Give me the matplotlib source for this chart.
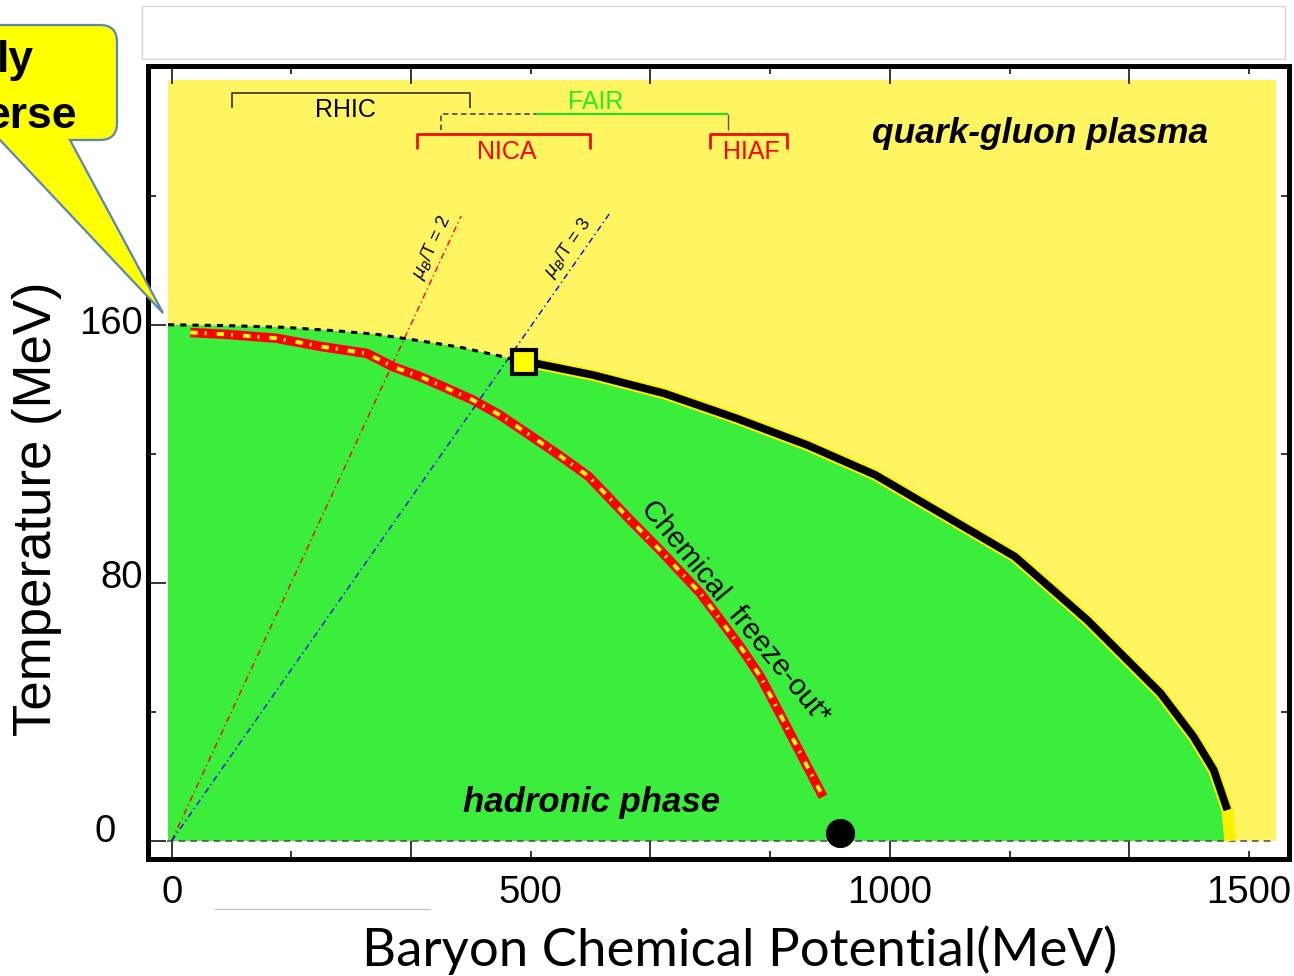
import numpy as np
import matplotlib.pyplot as plt
from matplotlib.path import Path
from matplotlib.patches import PathPatch, Rectangle
from matplotlib.lines import Line2D

W, H = 1294, 976

# ── data (MeV) ───────────────────────────────────────────────────────────
crossover_mu = [-5, 81, 156, 230, 286, 346, 402, 457, 490]
crossover_T = [160.1, 159.8, 159.3, 158.2, 157.1, 155.1, 153.1, 150.4, 148.6]

transition_mu = [490, 507, 587, 686, 786, 885, 980, 1079, 1174, 1275, 1377, 1423, 1451, 1470]
transition_T = [148.6, 148.1, 144.5, 138.8, 131.1, 122.8, 113.5, 100.6, 88.2, 68.5, 45.8, 32.3, 22.0, 9.6]
tail_mu = [1470, 1474]
tail_T = [9.6, 0]

freezeout_mu = [26, 77, 146, 209, 272, 308, 346, 383, 420, 457, 495, 536, 581, 634,
                680, 736, 792, 820, 866, 907]
freezeout_T = [157.7, 157.1, 155.9, 153.3, 151.2, 147.1, 144.0, 140.4, 136.7, 132.1,
               126.4, 120.2, 113.0, 100.6, 90.2, 76.9, 60.2, 50.9, 31.3, 13.7]

ratio2_mu = [0, 403]
ratio2_T = [0, 193.8]
ratio3_mu = [0, 611]
ratio3_T = [0, 195.0]

cep_mu, cep_T = [490], [148.6]          # critical end point
nuclear_mu, nuclear_T = [931], [2.5]    # nuclear matter

x_ticklabels = [0, 500, 1000, 1500]

YELLOW = "#FFF561"
GREEN = "#3BEE3B"

fig = plt.figure(figsize=(W / 100, H / 100), dpi=100)
fig.patch.set_facecolor("white")


def fx(px):
    return px / W


def fy(py):
    return 1 - py / H


ax = fig.add_axes([fx(148), fy(859), fx(1288.5) - fx(148), fy(65.5) - fy(859)])
ax.set_xlim(-32.9, 1555.1)
ax.set_ylim(-5.6, 240.5)

# background regions
ax.add_patch(Rectangle((-5, 0), 1543, 236, facecolor=YELLOW, edgecolor="none", zorder=0))
green_mu = crossover_mu + transition_mu + tail_mu + [-5]
green_T = crossover_T + transition_T + tail_T + [0]
ax.fill(green_mu, green_T, color=GREEN, lw=0, zorder=1)
ax.axhline(0, xmin=0.017, xmax=0.985, color="#555555", lw=1.2, ls=(0, (4, 3)), zorder=2)

# mu_B/T lines
ax.plot(ratio2_mu, ratio2_T, color="red", lw=1, ls=(0, (4.5, 2.5, 1, 2.5)), zorder=3)
ax.plot(ratio3_mu, ratio3_T, color="blue", lw=1, ls=(0, (4.5, 2.5, 1, 2.5)), zorder=3)
ax.text(362, 184, r"$\mu_B$/T = 2", rotation=65, ha="center", va="center",
        fontsize=13, family="Liberation Sans", zorder=4)
ax.text(552, 184, r"$\mu_B$/T = 3", rotation=55, ha="center", va="center",
        fontsize=13, family="Liberation Sans", zorder=4)

# crossover + first-order line
ax.plot(crossover_mu, crossover_T, color="black", lw=2.2, ls=(0, (2, 2)), zorder=4)
ax.plot(transition_mu + tail_mu[1:], transition_T + tail_T[1:], color="#FFF200",
        lw=8.5, solid_capstyle="butt", zorder=5)
ax.plot(transition_mu, transition_T, color="black", lw=5.6, solid_capstyle="butt", zorder=6)
ax.plot(cep_mu, cep_T, marker="s", ms=17, mfc="#FFFF00", mec="black", mew=3, zorder=7)

# chemical freeze-out
ax.plot(freezeout_mu, freezeout_T, color="red", lw=6.8, solid_capstyle="butt", zorder=5)
ax.plot(freezeout_mu, freezeout_T, color="#FFFF00", lw=2.8,
        ls=(0, (1.9, 1.8, 0.5, 2.6)), zorder=6)
ax.text(785, 71, "Chemical  freeze-out*", rotation=-50.5, ha="center", va="center",
        fontsize=21, family="Liberation Sans", zorder=7)

ax.plot(nuclear_mu, nuclear_T, marker="o", ms=20, color="black", zorder=8, clip_on=False)

# facility brackets
bk = dict(zorder=4, solid_capstyle="butt")
ax.plot([83.4, 83.4, 416, 416], [227.3, 232.0, 232.0, 227.3], color="#333333", lw=1.2, **bk)
ax.text(241.5, 226.7, "RHIC", ha="center", va="center", fontsize=18, family="Liberation Sans")
ax.plot([375, 375, 507.5], [220.4, 225.4, 225.4], color="#555555", lw=1.3, ls=(0, (3, 2)), zorder=4)
ax.plot([507.5, 775], [225.4, 225.4], color="#22DD22", lw=1.6, **bk)
ax.plot([775, 775], [225.4, 220.4], color="#555555", lw=1.0, **bk)
ax.text(591, 229.1, "FAIR", ha="center", va="center", fontsize=18, color="#22EE22",
        family="Liberation Sans")
ax.plot([341.4, 341.4, 582.6, 582.6], [214.6, 219.2, 219.2, 214.6], color="#EE1111", lw=2, **bk)
ax.text(467, 213.6, "NICA", ha="center", va="center", fontsize=18, color="red",
        family="Liberation Sans")
ax.plot([750, 750, 857, 857], [214.6, 219.2, 219.2, 214.6], color="#EE1111", lw=2, **bk)
ax.text(807, 213.6, "HIAF", ha="center", va="center", fontsize=18, color="red",
        family="Liberation Sans")

ax.text(1209, 219.5, "quark-gluon plasma", ha="center", va="center", fontsize=25.5,
        fontweight="bold", fontstyle="italic", family="Liberation Sans", zorder=7)
ax.text(585, 11.8, "hadronic phase", ha="center", va="center", fontsize=25,
        fontweight="bold", fontstyle="italic", family="Liberation Sans", zorder=7)

# ticks
ax.set_xticks([0, 1000 / 3, 2000 / 3, 1000, 4000 / 3])
ax.set_xticks([500 / 3, 500, 2500 / 3, 3500 / 3, 1500], minor=True)
ax.set_yticks([0, 80, 160, 240])
ax.set_yticks([40, 120, 200], minor=True)
ax.tick_params(which="major", direction="in", length=13, width=1.1, top=True, right=False,
               labelbottom=False, labelleft=False)
ax.tick_params(which="minor", direction="in", length=6, width=1.1, top=True, right=True)
for s in ax.spines.values():
    s.set_linewidth(3.6)

for v in x_ticklabels:
    ax.text(v, -16.1, str(v), ha="center", va="center", fontsize=27.5,
            family="Liberation Sans", clip_on=False)
ax.text(-39.8, 160.3, "160", ha="right", va="center", fontsize=27.5, family="Liberation Sans")
ax.text(-39.8, 81.6, "80", ha="right", va="center", fontsize=27.5, family="Liberation Sans")
ax.text(-77.4, 2.8, "0", ha="right", va="center", fontsize=27.5, family="Liberation Sans")

fig.text(fx(37), fy(509), "Temperature (MeV)", rotation=90, ha="center", va="center",
         fontsize=38, family="Liberation Sans")
fig.text(fx(740), fy(950), "Baryon Chemical Potential(MeV)", ha="center", va="center",
         fontsize=38, family="Lato")

# slide decorations
fig.add_artist(Rectangle((fx(142), fy(59)), fx(1285) - fx(142), fy(6) - fy(59),
                         transform=fig.transFigure, facecolor="white",
                         edgecolor="#D6D6D6", lw=1))
fig.add_artist(Line2D([fx(215), fx(430)], [fy(909), fy(909)], transform=fig.transFigure,
                      color="#C8C8C8", lw=1))

pts = [(-20, 25), (100, 25), (117, 25), (117, 42), (117, 123), (117, 140), (100, 140),
       (70, 140), (163, 313), (0, 140), (-20, 140), (-20, 25)]
codes = [Path.MOVETO, Path.LINETO, Path.CURVE3, Path.CURVE3, Path.LINETO, Path.CURVE3,
         Path.CURVE3, Path.LINETO, Path.LINETO, Path.LINETO, Path.LINETO, Path.CLOSEPOLY]
callout = Path([(fx(x), fy(y)) for x, y in pts], codes)
fig.add_artist(PathPatch(callout, transform=fig.transFigure, facecolor="#FFFF00",
                         edgecolor="#5A86B5", lw=1.6))
fig.text(fx(34), fy(72), "ly", ha="right", va="baseline", fontsize=32, fontweight="bold",
         family="Liberation Sans")
fig.text(fx(77), fy(128), "erse", ha="right", va="baseline", fontsize=32, fontweight="bold",
         family="Liberation Sans")

fig.savefig("out.png", dpi=100, facecolor="white")
